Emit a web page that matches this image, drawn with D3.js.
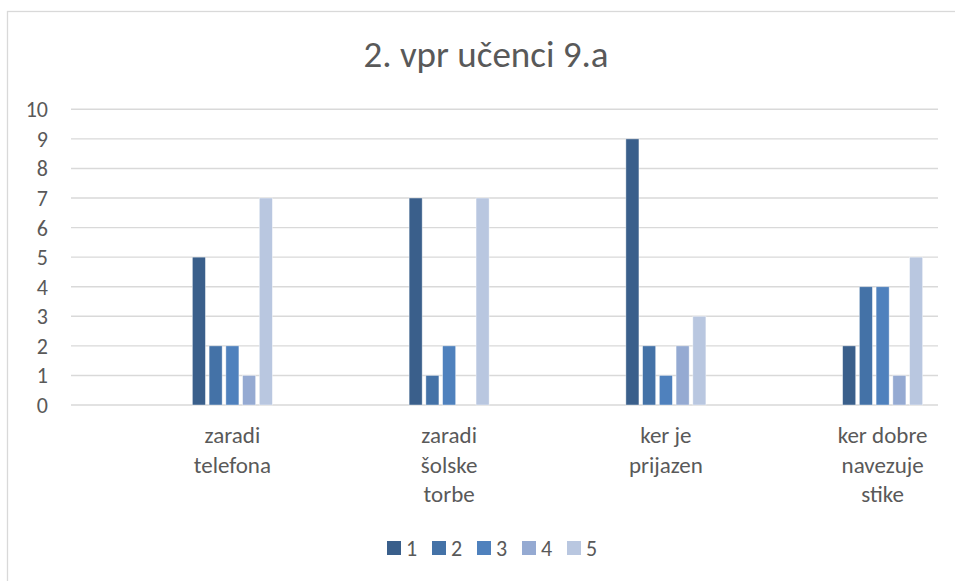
<!DOCTYPE html>
<html>
<head>
<meta charset="utf-8">
<script src="https://cdn.jsdelivr.net/npm/d3@7"></script>
<style>
    body { margin: 0; background: #fff; }
    svg text { font-family: Calibri, Carlito, Lato, "Noto Sans", sans-serif; fill: #595959; }
</style>
</head>
<body>
<div id="main"></div>
<script>
// chart data
const categories = ["zaradi telefona", "zaradi šolske torbe", "ker je prijazen", "ker dobre navezuje stike"];
const seriesNames = ["1", "2", "3", "4", "5"];
const series1 = [5, 7, 9, 2];
const series2 = [2, 1, 2, 4];
const series3 = [2, 2, 1, 4];
const series4 = [1, 0, 2, 1];
const series5 = [7, 7, 3, 5];
const yTicks = [0, 1, 2, 3, 4, 5, 6, 7, 8, 9, 10];
const colors = ["#3a5f8b", "#4472a7", "#4f81bd", "#95aad2", "#b9c7e0"];

const allSeries = [series1, series2, series3, series4, series5];

function drawChart() {
    const width = 955, height = 581;
    const svg = d3.select("#main").append("svg")
        .attr("width", width)
        .attr("height", height);

    // chart frame (cropped on right/bottom like the picture)
    svg.append("rect")
        .attr("x", 7.5).attr("y", 11.5)
        .attr("width", 980).attr("height", 600)
        .attr("fill", "#fff")
        .attr("stroke", "#d9d9d9")
        .attr("stroke-width", 1.3);

    svg.append("text")
        .attr("x", 486)
        .attr("y", 67)
        .attr("text-anchor", "middle")
        .style("font-size", "37px")
        .text("2. vpr učenci 9.a");

    const plotLeft = 71, plotRight = 938;
    const y = d3.scaleLinear().domain([0, 10]).range([405, 109.3]);

    // categories sit a bit right of the plot (as in the original)
    const shift = 53;
    const x0 = d3.scaleBand().domain(categories)
        .range([plotLeft + shift, plotRight + shift]);
    const x1 = d3.scaleBand().domain(seriesNames)
        .range([x0.bandwidth() / 2 - 40, x0.bandwidth() / 2 + 40])
        .paddingInner(0.22);

    // gridlines
    svg.append("g").selectAll("line")
        .data(yTicks)
        .join("line")
        .attr("x1", plotLeft).attr("x2", plotRight)
        .attr("y1", d => y(d)).attr("y2", d => y(d))
        .attr("stroke", "#d9d9d9")
        .attr("stroke-width", 1.4);

    svg.append("g").selectAll("text")
        .data(yTicks)
        .join("text")
        .attr("x", 48)
        .attr("y", d => y(d))
        .attr("dy", "0.36em")
        .attr("text-anchor", "end")
        .style("font-size", "22px")
        .text(d => d);

    // bars
    const groups = svg.append("g").selectAll("g")
        .data(categories)
        .join("g")
        .attr("transform", d => `translate(${x0(d)},0)`);

    groups.selectAll("rect")
        .data((d, i) => seriesNames.map((s, j) => ({ s: s, j: j, v: allSeries[j][i] })))
        .join("rect")
        .filter(d => d.v > 0)
        .attr("x", d => x1(d.s))
        .attr("y", d => y(d.v))
        .attr("width", x1.bandwidth())
        .attr("height", d => y(0) - y(d.v))
        .attr("fill", d => colors[d.j])
        .attr("stroke", "#fff")
        .attr("stroke-opacity", 0.5)
        .attr("stroke-width", 0.8);

    // category labels, wrapped like Excel does
    const labels = svg.append("g").selectAll("text")
        .data(categories)
        .join("text")
        .attr("x", d => x0(d) + x0.bandwidth() / 2)
        .attr("y", 443)
        .attr("text-anchor", "middle")
        .style("font-size", "23px");

    labels.each(function(d) {
        const t = d3.select(this);
        const words = d.split(" ");
        let lines = [], line = [];
        words.forEach(w => {
            const test = line.concat(w).join(" ");
            t.text(test);
            if (line.length && this.getComputedTextLength() > 112) {
                lines.push(line.join(" "));
                line = [w];
            } else {
                line.push(w);
            }
        });
        lines.push(line.join(" "));
        t.text(null);
        lines.forEach((l, i) => {
            t.append("tspan")
                .attr("x", x0(d) + x0.bandwidth() / 2)
                .attr("y", 443 + i * 29.5)
                .text(l);
        });
    });

    // legend
    const legend = svg.append("g").selectAll("g")
        .data(seriesNames)
        .join("g")
        .attr("transform", (d, i) => `translate(${387 + i * 45},541)`);
    legend.append("rect")
        .attr("width", 14).attr("height", 14)
        .attr("fill", (d, i) => colors[i]);
    legend.append("text")
        .attr("x", 19).attr("y", 15)
        .style("font-size", "22px")
        .text(d => d);
}

document.addEventListener("DOMContentLoaded", drawChart);
</script>
</body>
</html>
